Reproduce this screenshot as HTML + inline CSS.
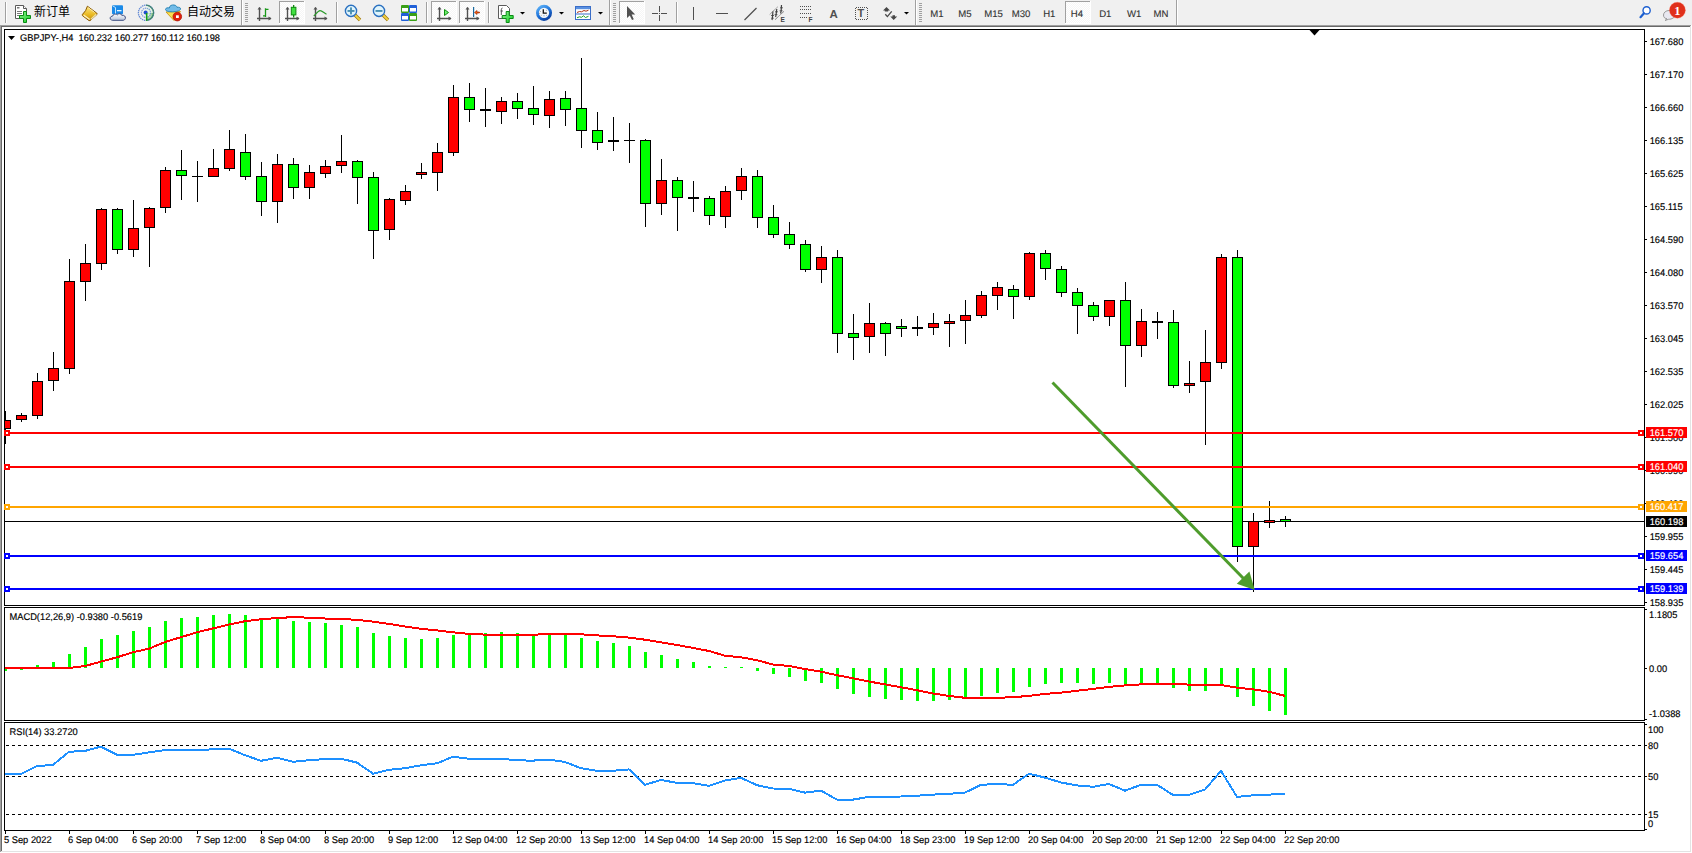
<!DOCTYPE html>
<html><head><meta charset="utf-8"><title>GBPJPY-,H4</title>
<style>
html,body{margin:0;padding:0;}
body{width:1692px;height:853px;overflow:hidden;background:#f0f0f0;position:relative;font-family:'Liberation Sans', 'Noto Sans CJK SC', sans-serif;}
#tb{position:absolute;left:0;top:0;width:1692px;height:25px;}
</style></head><body>
<svg id="chart" width="1692" height="853" viewBox="0 0 1692 853" style="position:absolute;left:0;top:0">
<defs>
<clipPath id="cm"><rect x="5" y="30" width="1639" height="575"/></clipPath>
<clipPath id="cmacd"><rect x="5" y="608" width="1639" height="112"/></clipPath>
<clipPath id="crsi"><rect x="5" y="723" width="1639" height="107"/></clipPath>
</defs>
<!-- window sunken border -->
<rect x="0" y="25" width="1692" height="828" fill="#fff"/>
<rect x="0" y="25" width="1691" height="1" fill="#a0a0a0"/>
<rect x="0" y="25" width="1" height="827" fill="#a0a0a0"/>
<rect x="1" y="26" width="1689" height="1" fill="#696969"/>
<rect x="1" y="26" width="1" height="825" fill="#696969"/>
<rect x="1690" y="26" width="1" height="826" fill="#e3e3e3"/>
<rect x="1" y="851" width="1690" height="1" fill="#e3e3e3"/>
<!-- frames -->
<g fill="#000" shape-rendering="crispEdges">
<rect x="4" y="29" width="1641" height="1"/>
<rect x="4" y="29" width="1" height="577"/>
<rect x="4" y="605" width="1641" height="1"/>
<rect x="4" y="607" width="1641" height="1"/>
<rect x="4" y="607" width="1" height="114"/>
<rect x="4" y="720" width="1641" height="1"/>
<rect x="4" y="722" width="1641" height="1"/>
<rect x="4" y="722" width="1" height="109"/>
<rect x="4" y="830" width="1641" height="1"/>
<rect x="1644" y="29" width="1" height="577"/>
<rect x="1644" y="607" width="1" height="114"/>
<rect x="1644" y="722" width="1" height="109"/>
</g>
<polygon points="1309.5,30 1319.5,30 1314.5,35.5" fill="#000"/>
<g clip-path="url(#cm)" shape-rendering="crispEdges">
<rect x="5" y="521" width="1639" height="1" fill="#000"/>
<rect x="5" y="411" width="1" height="33" fill="#000"/>
<rect x="0" y="420" width="11" height="9" fill="#000"/>
<rect x="1" y="421" width="9" height="7" fill="#ff0000"/>
<rect x="21" y="413" width="1" height="9" fill="#000"/>
<rect x="16" y="415" width="11" height="5" fill="#000"/>
<rect x="17" y="416" width="9" height="3" fill="#ff0000"/>
<rect x="37" y="373" width="1" height="46" fill="#000"/>
<rect x="32" y="381" width="11" height="35" fill="#000"/>
<rect x="33" y="382" width="9" height="33" fill="#ff0000"/>
<rect x="53" y="352" width="1" height="39" fill="#000"/>
<rect x="48" y="368" width="11" height="13" fill="#000"/>
<rect x="49" y="369" width="9" height="11" fill="#ff0000"/>
<rect x="69" y="259" width="1" height="115" fill="#000"/>
<rect x="64" y="281" width="11" height="88" fill="#000"/>
<rect x="65" y="282" width="9" height="86" fill="#ff0000"/>
<rect x="85" y="244" width="1" height="57" fill="#000"/>
<rect x="80" y="263" width="11" height="19" fill="#000"/>
<rect x="81" y="264" width="9" height="17" fill="#ff0000"/>
<rect x="101" y="208" width="1" height="62" fill="#000"/>
<rect x="96" y="209" width="11" height="55" fill="#000"/>
<rect x="97" y="210" width="9" height="53" fill="#ff0000"/>
<rect x="117" y="208" width="1" height="46" fill="#000"/>
<rect x="112" y="209" width="11" height="41" fill="#000"/>
<rect x="113" y="210" width="9" height="39" fill="#00ff00"/>
<rect x="133" y="200" width="1" height="57" fill="#000"/>
<rect x="128" y="228" width="11" height="22" fill="#000"/>
<rect x="129" y="229" width="9" height="20" fill="#ff0000"/>
<rect x="149" y="207" width="1" height="60" fill="#000"/>
<rect x="144" y="208" width="11" height="20" fill="#000"/>
<rect x="145" y="209" width="9" height="18" fill="#ff0000"/>
<rect x="165" y="167" width="1" height="46" fill="#000"/>
<rect x="160" y="170" width="11" height="38" fill="#000"/>
<rect x="161" y="171" width="9" height="36" fill="#ff0000"/>
<rect x="181" y="150" width="1" height="50" fill="#000"/>
<rect x="176" y="170" width="11" height="6" fill="#000"/>
<rect x="177" y="171" width="9" height="4" fill="#00ff00"/>
<rect x="197" y="161" width="1" height="41" fill="#000"/>
<rect x="192" y="176" width="11" height="1" fill="#000"/>
<rect x="213" y="149" width="1" height="28" fill="#000"/>
<rect x="208" y="168" width="11" height="9" fill="#000"/>
<rect x="209" y="169" width="9" height="7" fill="#ff0000"/>
<rect x="229" y="130" width="1" height="41" fill="#000"/>
<rect x="224" y="149" width="11" height="20" fill="#000"/>
<rect x="225" y="150" width="9" height="18" fill="#ff0000"/>
<rect x="245" y="134" width="1" height="46" fill="#000"/>
<rect x="240" y="152" width="11" height="25" fill="#000"/>
<rect x="241" y="153" width="9" height="23" fill="#00ff00"/>
<rect x="261" y="162" width="1" height="54" fill="#000"/>
<rect x="256" y="176" width="11" height="26" fill="#000"/>
<rect x="257" y="177" width="9" height="24" fill="#00ff00"/>
<rect x="277" y="154" width="1" height="69" fill="#000"/>
<rect x="272" y="164" width="11" height="38" fill="#000"/>
<rect x="273" y="165" width="9" height="36" fill="#ff0000"/>
<rect x="293" y="158" width="1" height="41" fill="#000"/>
<rect x="288" y="164" width="11" height="24" fill="#000"/>
<rect x="289" y="165" width="9" height="22" fill="#00ff00"/>
<rect x="309" y="165" width="1" height="34" fill="#000"/>
<rect x="304" y="172" width="11" height="16" fill="#000"/>
<rect x="305" y="173" width="9" height="14" fill="#ff0000"/>
<rect x="325" y="160" width="1" height="18" fill="#000"/>
<rect x="320" y="166" width="11" height="8" fill="#000"/>
<rect x="321" y="167" width="9" height="6" fill="#ff0000"/>
<rect x="341" y="135" width="1" height="38" fill="#000"/>
<rect x="336" y="161" width="11" height="5" fill="#000"/>
<rect x="337" y="162" width="9" height="3" fill="#ff0000"/>
<rect x="357" y="160" width="1" height="44" fill="#000"/>
<rect x="352" y="161" width="11" height="17" fill="#000"/>
<rect x="353" y="162" width="9" height="15" fill="#00ff00"/>
<rect x="373" y="172" width="1" height="87" fill="#000"/>
<rect x="368" y="177" width="11" height="54" fill="#000"/>
<rect x="369" y="178" width="9" height="52" fill="#00ff00"/>
<rect x="389" y="198" width="1" height="42" fill="#000"/>
<rect x="384" y="199" width="11" height="31" fill="#000"/>
<rect x="385" y="200" width="9" height="29" fill="#ff0000"/>
<rect x="405" y="185" width="1" height="20" fill="#000"/>
<rect x="400" y="191" width="11" height="10" fill="#000"/>
<rect x="401" y="192" width="9" height="8" fill="#ff0000"/>
<rect x="421" y="163" width="1" height="16" fill="#000"/>
<rect x="416" y="172" width="11" height="3" fill="#000"/>
<rect x="417" y="173" width="9" height="1" fill="#ff0000"/>
<rect x="437" y="143" width="1" height="48" fill="#000"/>
<rect x="432" y="152" width="11" height="21" fill="#000"/>
<rect x="433" y="153" width="9" height="19" fill="#ff0000"/>
<rect x="453" y="85" width="1" height="71" fill="#000"/>
<rect x="448" y="97" width="11" height="56" fill="#000"/>
<rect x="449" y="98" width="9" height="54" fill="#ff0000"/>
<rect x="469" y="83" width="1" height="39" fill="#000"/>
<rect x="464" y="97" width="11" height="13" fill="#000"/>
<rect x="465" y="98" width="9" height="11" fill="#00ff00"/>
<rect x="485" y="88" width="1" height="39" fill="#000"/>
<rect x="480" y="109" width="11" height="2" fill="#000"/>
<rect x="501" y="97" width="1" height="27" fill="#000"/>
<rect x="496" y="101" width="11" height="11" fill="#000"/>
<rect x="497" y="102" width="9" height="9" fill="#ff0000"/>
<rect x="517" y="93" width="1" height="26" fill="#000"/>
<rect x="512" y="101" width="11" height="8" fill="#000"/>
<rect x="513" y="102" width="9" height="6" fill="#00ff00"/>
<rect x="533" y="86" width="1" height="39" fill="#000"/>
<rect x="528" y="108" width="11" height="7" fill="#000"/>
<rect x="529" y="109" width="9" height="5" fill="#00ff00"/>
<rect x="549" y="91" width="1" height="37" fill="#000"/>
<rect x="544" y="99" width="11" height="17" fill="#000"/>
<rect x="545" y="100" width="9" height="15" fill="#ff0000"/>
<rect x="565" y="91" width="1" height="35" fill="#000"/>
<rect x="560" y="98" width="11" height="12" fill="#000"/>
<rect x="561" y="99" width="9" height="10" fill="#00ff00"/>
<rect x="581" y="58" width="1" height="90" fill="#000"/>
<rect x="576" y="108" width="11" height="23" fill="#000"/>
<rect x="577" y="109" width="9" height="21" fill="#00ff00"/>
<rect x="597" y="112" width="1" height="38" fill="#000"/>
<rect x="592" y="130" width="11" height="13" fill="#000"/>
<rect x="593" y="131" width="9" height="11" fill="#00ff00"/>
<rect x="613" y="117" width="1" height="34" fill="#000"/>
<rect x="608" y="140" width="11" height="2" fill="#000"/>
<rect x="629" y="123" width="1" height="40" fill="#000"/>
<rect x="624" y="140" width="11" height="1" fill="#000"/>
<rect x="645" y="139" width="1" height="88" fill="#000"/>
<rect x="640" y="140" width="11" height="64" fill="#000"/>
<rect x="641" y="141" width="9" height="62" fill="#00ff00"/>
<rect x="661" y="159" width="1" height="56" fill="#000"/>
<rect x="656" y="180" width="11" height="24" fill="#000"/>
<rect x="657" y="181" width="9" height="22" fill="#ff0000"/>
<rect x="677" y="177" width="1" height="54" fill="#000"/>
<rect x="672" y="180" width="11" height="18" fill="#000"/>
<rect x="673" y="181" width="9" height="16" fill="#00ff00"/>
<rect x="693" y="181" width="1" height="31" fill="#000"/>
<rect x="688" y="197" width="11" height="2" fill="#000"/>
<rect x="709" y="196" width="1" height="29" fill="#000"/>
<rect x="704" y="198" width="11" height="18" fill="#000"/>
<rect x="705" y="199" width="9" height="16" fill="#00ff00"/>
<rect x="725" y="186" width="1" height="42" fill="#000"/>
<rect x="720" y="191" width="11" height="26" fill="#000"/>
<rect x="721" y="192" width="9" height="24" fill="#ff0000"/>
<rect x="741" y="168" width="1" height="32" fill="#000"/>
<rect x="736" y="176" width="11" height="15" fill="#000"/>
<rect x="737" y="177" width="9" height="13" fill="#ff0000"/>
<rect x="757" y="170" width="1" height="58" fill="#000"/>
<rect x="752" y="176" width="11" height="42" fill="#000"/>
<rect x="753" y="177" width="9" height="40" fill="#00ff00"/>
<rect x="773" y="205" width="1" height="33" fill="#000"/>
<rect x="768" y="217" width="11" height="18" fill="#000"/>
<rect x="769" y="218" width="9" height="16" fill="#00ff00"/>
<rect x="789" y="222" width="1" height="27" fill="#000"/>
<rect x="784" y="234" width="11" height="11" fill="#000"/>
<rect x="785" y="235" width="9" height="9" fill="#00ff00"/>
<rect x="805" y="240" width="1" height="32" fill="#000"/>
<rect x="800" y="244" width="11" height="26" fill="#000"/>
<rect x="801" y="245" width="9" height="24" fill="#00ff00"/>
<rect x="821" y="246" width="1" height="37" fill="#000"/>
<rect x="816" y="257" width="11" height="13" fill="#000"/>
<rect x="817" y="258" width="9" height="11" fill="#ff0000"/>
<rect x="837" y="250" width="1" height="103" fill="#000"/>
<rect x="832" y="257" width="11" height="77" fill="#000"/>
<rect x="833" y="258" width="9" height="75" fill="#00ff00"/>
<rect x="853" y="314" width="1" height="46" fill="#000"/>
<rect x="848" y="333" width="11" height="5" fill="#000"/>
<rect x="849" y="334" width="9" height="3" fill="#00ff00"/>
<rect x="869" y="303" width="1" height="50" fill="#000"/>
<rect x="864" y="323" width="11" height="14" fill="#000"/>
<rect x="865" y="324" width="9" height="12" fill="#ff0000"/>
<rect x="885" y="322" width="1" height="34" fill="#000"/>
<rect x="880" y="323" width="11" height="11" fill="#000"/>
<rect x="881" y="324" width="9" height="9" fill="#00ff00"/>
<rect x="901" y="319" width="1" height="18" fill="#000"/>
<rect x="896" y="326" width="11" height="3" fill="#000"/>
<rect x="897" y="327" width="9" height="1" fill="#00ff00"/>
<rect x="917" y="316" width="1" height="20" fill="#000"/>
<rect x="912" y="327" width="11" height="2" fill="#000"/>
<rect x="933" y="313" width="1" height="22" fill="#000"/>
<rect x="928" y="323" width="11" height="5" fill="#000"/>
<rect x="929" y="324" width="9" height="3" fill="#ff0000"/>
<rect x="949" y="314" width="1" height="33" fill="#000"/>
<rect x="944" y="321" width="11" height="3" fill="#000"/>
<rect x="945" y="322" width="9" height="1" fill="#ff0000"/>
<rect x="965" y="300" width="1" height="44" fill="#000"/>
<rect x="960" y="315" width="11" height="6" fill="#000"/>
<rect x="961" y="316" width="9" height="4" fill="#ff0000"/>
<rect x="981" y="291" width="1" height="27" fill="#000"/>
<rect x="976" y="295" width="11" height="21" fill="#000"/>
<rect x="977" y="296" width="9" height="19" fill="#ff0000"/>
<rect x="997" y="282" width="1" height="28" fill="#000"/>
<rect x="992" y="287" width="11" height="9" fill="#000"/>
<rect x="993" y="288" width="9" height="7" fill="#ff0000"/>
<rect x="1013" y="285" width="1" height="34" fill="#000"/>
<rect x="1008" y="289" width="11" height="8" fill="#000"/>
<rect x="1009" y="290" width="9" height="6" fill="#00ff00"/>
<rect x="1029" y="252" width="1" height="48" fill="#000"/>
<rect x="1024" y="253" width="11" height="44" fill="#000"/>
<rect x="1025" y="254" width="9" height="42" fill="#ff0000"/>
<rect x="1045" y="250" width="1" height="30" fill="#000"/>
<rect x="1040" y="253" width="11" height="16" fill="#000"/>
<rect x="1041" y="254" width="9" height="14" fill="#00ff00"/>
<rect x="1061" y="266" width="1" height="31" fill="#000"/>
<rect x="1056" y="269" width="11" height="24" fill="#000"/>
<rect x="1057" y="270" width="9" height="22" fill="#00ff00"/>
<rect x="1077" y="288" width="1" height="46" fill="#000"/>
<rect x="1072" y="292" width="11" height="14" fill="#000"/>
<rect x="1073" y="293" width="9" height="12" fill="#00ff00"/>
<rect x="1093" y="302" width="1" height="19" fill="#000"/>
<rect x="1088" y="305" width="11" height="12" fill="#000"/>
<rect x="1089" y="306" width="9" height="10" fill="#00ff00"/>
<rect x="1109" y="300" width="1" height="26" fill="#000"/>
<rect x="1104" y="300" width="11" height="17" fill="#000"/>
<rect x="1105" y="301" width="9" height="15" fill="#ff0000"/>
<rect x="1125" y="282" width="1" height="105" fill="#000"/>
<rect x="1120" y="300" width="11" height="46" fill="#000"/>
<rect x="1121" y="301" width="9" height="44" fill="#00ff00"/>
<rect x="1141" y="309" width="1" height="48" fill="#000"/>
<rect x="1136" y="321" width="11" height="25" fill="#000"/>
<rect x="1137" y="322" width="9" height="23" fill="#ff0000"/>
<rect x="1157" y="312" width="1" height="27" fill="#000"/>
<rect x="1152" y="321" width="11" height="2" fill="#000"/>
<rect x="1173" y="310" width="1" height="78" fill="#000"/>
<rect x="1168" y="322" width="11" height="64" fill="#000"/>
<rect x="1169" y="323" width="9" height="62" fill="#00ff00"/>
<rect x="1189" y="361" width="1" height="32" fill="#000"/>
<rect x="1184" y="383" width="11" height="3" fill="#000"/>
<rect x="1185" y="384" width="9" height="1" fill="#ff0000"/>
<rect x="1205" y="330" width="1" height="115" fill="#000"/>
<rect x="1200" y="362" width="11" height="20" fill="#000"/>
<rect x="1201" y="363" width="9" height="18" fill="#ff0000"/>
<rect x="1221" y="254" width="1" height="115" fill="#000"/>
<rect x="1216" y="257" width="11" height="106" fill="#000"/>
<rect x="1217" y="258" width="9" height="104" fill="#ff0000"/>
<rect x="1237" y="250" width="1" height="312" fill="#000"/>
<rect x="1232" y="257" width="11" height="290" fill="#000"/>
<rect x="1233" y="258" width="9" height="288" fill="#00ff00"/>
<rect x="1253" y="513" width="1" height="79" fill="#000"/>
<rect x="1248" y="521" width="11" height="26" fill="#000"/>
<rect x="1249" y="522" width="9" height="24" fill="#ff0000"/>
<rect x="1269" y="501" width="1" height="27" fill="#000"/>
<rect x="1264" y="520" width="11" height="3" fill="#000"/>
<rect x="1265" y="521" width="9" height="1" fill="#ff0000"/>
<rect x="1285" y="516" width="1" height="11" fill="#000"/>
<rect x="1280" y="519" width="11" height="3" fill="#000"/>
<rect x="1281" y="520" width="9" height="1" fill="#00ff00"/>
</g>
<g shape-rendering="crispEdges">
<rect x="5" y="432" width="1639" height="2" fill="#ff0000"/>
<rect x="4" y="430" width="6" height="6" fill="#ff0000"/>
<rect x="6" y="432" width="2" height="2" fill="#fff"/>
<rect x="1638" y="430" width="6" height="6" fill="#ff0000"/>
<rect x="1640" y="432" width="2" height="2" fill="#fff"/>
<rect x="5" y="466" width="1639" height="2" fill="#ff0000"/>
<rect x="4" y="464" width="6" height="6" fill="#ff0000"/>
<rect x="6" y="466" width="2" height="2" fill="#fff"/>
<rect x="1638" y="464" width="6" height="6" fill="#ff0000"/>
<rect x="1640" y="466" width="2" height="2" fill="#fff"/>
<rect x="5" y="506" width="1639" height="2" fill="#ffa500"/>
<rect x="4" y="504" width="6" height="6" fill="#ffa500"/>
<rect x="6" y="506" width="2" height="2" fill="#fff"/>
<rect x="1638" y="504" width="6" height="6" fill="#ffa500"/>
<rect x="1640" y="506" width="2" height="2" fill="#fff"/>
<rect x="5" y="555" width="1639" height="2" fill="#0000ff"/>
<rect x="4" y="553" width="6" height="6" fill="#0000ff"/>
<rect x="6" y="555" width="2" height="2" fill="#fff"/>
<rect x="1638" y="553" width="6" height="6" fill="#0000ff"/>
<rect x="1640" y="555" width="2" height="2" fill="#fff"/>
<rect x="5" y="588" width="1639" height="2" fill="#0000ff"/>
<rect x="4" y="586" width="6" height="6" fill="#0000ff"/>
<rect x="6" y="588" width="2" height="2" fill="#fff"/>
<rect x="1638" y="586" width="6" height="6" fill="#0000ff"/>
<rect x="1640" y="588" width="2" height="2" fill="#fff"/>
</g>
<g clip-path="url(#cm)">
<line x1="1052.5" y1="382.5" x2="1244" y2="579" stroke="#4e9c2c" stroke-width="3"/>
<polygon points="1254.8,590 1249.4,571.5 1236.8,583.8" fill="#4e9c2c"/>
</g>
<g clip-path="url(#cmacd)" shape-rendering="crispEdges">
<rect x="4" y="668" width="3" height="3" fill="#00ff00"/>
<rect x="20" y="668" width="3" height="2" fill="#00ff00"/>
<rect x="36" y="665" width="3" height="3" fill="#00ff00"/>
<rect x="52" y="662" width="3" height="6" fill="#00ff00"/>
<rect x="68" y="654" width="3" height="14" fill="#00ff00"/>
<rect x="84" y="647" width="3" height="21" fill="#00ff00"/>
<rect x="100" y="639" width="3" height="29" fill="#00ff00"/>
<rect x="116" y="635" width="3" height="33" fill="#00ff00"/>
<rect x="132" y="631" width="3" height="37" fill="#00ff00"/>
<rect x="148" y="627" width="3" height="41" fill="#00ff00"/>
<rect x="164" y="621" width="3" height="47" fill="#00ff00"/>
<rect x="180" y="618" width="3" height="50" fill="#00ff00"/>
<rect x="196" y="617" width="3" height="51" fill="#00ff00"/>
<rect x="212" y="615" width="3" height="53" fill="#00ff00"/>
<rect x="228" y="614" width="3" height="54" fill="#00ff00"/>
<rect x="244" y="615" width="3" height="53" fill="#00ff00"/>
<rect x="260" y="618" width="3" height="50" fill="#00ff00"/>
<rect x="276" y="619" width="3" height="49" fill="#00ff00"/>
<rect x="292" y="621" width="3" height="47" fill="#00ff00"/>
<rect x="308" y="622" width="3" height="46" fill="#00ff00"/>
<rect x="324" y="623" width="3" height="45" fill="#00ff00"/>
<rect x="340" y="625" width="3" height="43" fill="#00ff00"/>
<rect x="356" y="627" width="3" height="41" fill="#00ff00"/>
<rect x="372" y="633" width="3" height="35" fill="#00ff00"/>
<rect x="388" y="636" width="3" height="32" fill="#00ff00"/>
<rect x="404" y="638" width="3" height="30" fill="#00ff00"/>
<rect x="420" y="639" width="3" height="29" fill="#00ff00"/>
<rect x="436" y="638" width="3" height="30" fill="#00ff00"/>
<rect x="452" y="635" width="3" height="33" fill="#00ff00"/>
<rect x="468" y="635" width="3" height="33" fill="#00ff00"/>
<rect x="484" y="633" width="3" height="35" fill="#00ff00"/>
<rect x="500" y="632" width="3" height="36" fill="#00ff00"/>
<rect x="516" y="633" width="3" height="35" fill="#00ff00"/>
<rect x="532" y="635" width="3" height="33" fill="#00ff00"/>
<rect x="548" y="635" width="3" height="33" fill="#00ff00"/>
<rect x="564" y="635" width="3" height="33" fill="#00ff00"/>
<rect x="580" y="638" width="3" height="30" fill="#00ff00"/>
<rect x="596" y="641" width="3" height="27" fill="#00ff00"/>
<rect x="612" y="643" width="3" height="25" fill="#00ff00"/>
<rect x="628" y="646" width="3" height="22" fill="#00ff00"/>
<rect x="644" y="652" width="3" height="16" fill="#00ff00"/>
<rect x="660" y="655" width="3" height="13" fill="#00ff00"/>
<rect x="676" y="659" width="3" height="9" fill="#00ff00"/>
<rect x="692" y="662" width="3" height="6" fill="#00ff00"/>
<rect x="708" y="666" width="3" height="2" fill="#00ff00"/>
<rect x="724" y="667" width="3" height="1" fill="#00ff00"/>
<rect x="740" y="667" width="3" height="1" fill="#00ff00"/>
<rect x="756" y="668" width="3" height="3" fill="#00ff00"/>
<rect x="772" y="668" width="3" height="6" fill="#00ff00"/>
<rect x="788" y="668" width="3" height="9" fill="#00ff00"/>
<rect x="804" y="668" width="3" height="13" fill="#00ff00"/>
<rect x="820" y="668" width="3" height="15" fill="#00ff00"/>
<rect x="836" y="668" width="3" height="21" fill="#00ff00"/>
<rect x="852" y="668" width="3" height="26" fill="#00ff00"/>
<rect x="868" y="668" width="3" height="29" fill="#00ff00"/>
<rect x="884" y="668" width="3" height="31" fill="#00ff00"/>
<rect x="900" y="668" width="3" height="32" fill="#00ff00"/>
<rect x="916" y="668" width="3" height="33" fill="#00ff00"/>
<rect x="932" y="668" width="3" height="33" fill="#00ff00"/>
<rect x="948" y="668" width="3" height="32" fill="#00ff00"/>
<rect x="964" y="668" width="3" height="30" fill="#00ff00"/>
<rect x="980" y="668" width="3" height="28" fill="#00ff00"/>
<rect x="996" y="668" width="3" height="25" fill="#00ff00"/>
<rect x="1012" y="668" width="3" height="24" fill="#00ff00"/>
<rect x="1028" y="668" width="3" height="19" fill="#00ff00"/>
<rect x="1044" y="668" width="3" height="16" fill="#00ff00"/>
<rect x="1060" y="668" width="3" height="15" fill="#00ff00"/>
<rect x="1076" y="668" width="3" height="15" fill="#00ff00"/>
<rect x="1092" y="668" width="3" height="16" fill="#00ff00"/>
<rect x="1108" y="668" width="3" height="15" fill="#00ff00"/>
<rect x="1124" y="668" width="3" height="17" fill="#00ff00"/>
<rect x="1140" y="668" width="3" height="16" fill="#00ff00"/>
<rect x="1156" y="668" width="3" height="15" fill="#00ff00"/>
<rect x="1172" y="668" width="3" height="20" fill="#00ff00"/>
<rect x="1188" y="668" width="3" height="23" fill="#00ff00"/>
<rect x="1204" y="668" width="3" height="23" fill="#00ff00"/>
<rect x="1220" y="668" width="3" height="17" fill="#00ff00"/>
<rect x="1236" y="668" width="3" height="29" fill="#00ff00"/>
<rect x="1252" y="668" width="3" height="38" fill="#00ff00"/>
<rect x="1268" y="668" width="3" height="43" fill="#00ff00"/>
<rect x="1284" y="668" width="3" height="47" fill="#00ff00"/>
<polyline points="5,668 21,668 37,668 53,668 69,668 85,666 101,661.6 117,657.3 133,652.2 149,648.7 165,642 181,637.2 197,632.3 213,628.4 229,624.5 245,621.2 261,619.2 277,618.1 293,617.1 309,617.7 325,618.5 341,619 357,619.8 373,621.6 389,623.9 405,626.5 421,628.8 437,630.4 453,632.3 469,633.9 485,634.6 501,634.6 517,634.6 533,634.6 549,634.3 565,634.3 581,634.3 597,635.4 613,636.2 629,637.6 645,639.7 661,642.4 677,645 693,647.9 709,651 725,655.7 741,657.3 757,660.2 773,664.5 789,666 805,669 821,671.7 837,675.2 853,678.3 869,681.5 885,684.4 901,687.3 917,690.2 933,693.5 949,695.9 965,697.8 981,697.8 997,697.8 1013,697.2 1029,695.9 1045,693.9 1061,692.6 1077,690.8 1093,688.9 1109,686.9 1125,685.4 1141,684.4 1157,683.8 1173,683.8 1189,684.6 1205,684.6 1221,685 1237,687.7 1253,689.3 1269,691.8 1285,695.9" fill="none" stroke="#ff0000" stroke-width="2" stroke-linejoin="round" shape-rendering="crispEdges"/>
</g>
<g clip-path="url(#crsi)">
<line x1="6" y1="745.5" x2="1644" y2="745.5" stroke="#000" stroke-width="1" stroke-dasharray="3 3"/>
<line x1="6" y1="776.5" x2="1644" y2="776.5" stroke="#000" stroke-width="1" stroke-dasharray="3 3"/>
<line x1="6" y1="814.5" x2="1644" y2="814.5" stroke="#000" stroke-width="1" stroke-dasharray="3 3"/>
<polyline points="5,773.9 21,773.9 37,766.1 53,764.9 69,751.8 85,750.9 101,746.6 117,754.8 133,754.8 149,752.4 165,750.1 181,750.1 197,750.1 213,749.3 229,748.7 245,755.2 261,760.8 277,757.7 293,761.8 309,760.2 325,759.1 341,758.7 357,762.6 373,773.7 389,769.8 405,768.2 421,765.3 437,763.3 453,756.7 469,758.7 485,758.7 501,758.7 517,760.4 533,760.6 549,759.6 565,762 581,768.2 597,770.8 613,770.8 629,769.4 645,784.8 661,779.9 677,782.9 693,783.2 709,785.8 725,780.5 741,777.8 757,785.2 773,788.5 789,788.9 805,792.6 821,790.7 837,799.6 853,799.6 869,796.9 885,796.9 901,796.5 917,795.7 933,794.6 949,793.8 965,792.6 981,784.8 997,784 1013,784.8 1029,773.7 1045,777.6 1061,782.5 1077,785.4 1093,786.8 1109,784 1125,790.7 1141,784.8 1157,784.8 1173,794.9 1189,794.9 1205,789.5 1221,770.8 1237,796.9 1253,795.3 1269,794.6 1285,793.8" fill="none" stroke="#1e90ff" stroke-width="2" stroke-linejoin="round" shape-rendering="crispEdges"/>
</g>
<g font-family="'Liberation Sans', 'Noto Sans CJK SC', sans-serif" font-size="9.3" fill="#000" stroke-width="0.15" paint-order="fill" text-rendering="geometricPrecision">
<rect x="1645" y="41" width="2" height="1" fill="#000"/>
<text transform="translate(1649.7,45) scale(1,1.04)" stroke="#000" >167.680</text>
<rect x="1645" y="74" width="2" height="1" fill="#000"/>
<text transform="translate(1649.7,78) scale(1,1.04)" stroke="#000" >167.170</text>
<rect x="1645" y="107" width="2" height="1" fill="#000"/>
<text transform="translate(1649.7,111) scale(1,1.04)" stroke="#000" >166.660</text>
<rect x="1645" y="140" width="2" height="1" fill="#000"/>
<text transform="translate(1649.7,144) scale(1,1.04)" stroke="#000" >166.135</text>
<rect x="1645" y="173" width="2" height="1" fill="#000"/>
<text transform="translate(1649.7,177) scale(1,1.04)" stroke="#000" >165.625</text>
<rect x="1645" y="206" width="2" height="1" fill="#000"/>
<text transform="translate(1649.7,210) scale(1,1.04)" stroke="#000" >165.115</text>
<rect x="1645" y="239" width="2" height="1" fill="#000"/>
<text transform="translate(1649.7,243) scale(1,1.04)" stroke="#000" >164.590</text>
<rect x="1645" y="272" width="2" height="1" fill="#000"/>
<text transform="translate(1649.7,276) scale(1,1.04)" stroke="#000" >164.080</text>
<rect x="1645" y="305" width="2" height="1" fill="#000"/>
<text transform="translate(1649.7,309) scale(1,1.04)" stroke="#000" >163.570</text>
<rect x="1645" y="338" width="2" height="1" fill="#000"/>
<text transform="translate(1649.7,342) scale(1,1.04)" stroke="#000" >163.045</text>
<rect x="1645" y="371" width="2" height="1" fill="#000"/>
<text transform="translate(1649.7,375) scale(1,1.04)" stroke="#000" >162.535</text>
<rect x="1645" y="404" width="2" height="1" fill="#000"/>
<text transform="translate(1649.7,408) scale(1,1.04)" stroke="#000" >162.025</text>
<rect x="1645" y="437" width="2" height="1" fill="#000"/>
<text transform="translate(1649.7,441) scale(1,1.04)" stroke="#000" >161.500</text>
<rect x="1645" y="470" width="2" height="1" fill="#000"/>
<text transform="translate(1649.7,474) scale(1,1.04)" stroke="#000" >160.990</text>
<rect x="1645" y="503" width="2" height="1" fill="#000"/>
<text transform="translate(1649.7,507) scale(1,1.04)" stroke="#000" >160.480</text>
<rect x="1645" y="536" width="2" height="1" fill="#000"/>
<text transform="translate(1649.7,540) scale(1,1.04)" stroke="#000" >159.955</text>
<rect x="1645" y="569" width="2" height="1" fill="#000"/>
<text transform="translate(1649.7,573) scale(1,1.04)" stroke="#000" >159.445</text>
<rect x="1645" y="602" width="2" height="1" fill="#000"/>
<text transform="translate(1649.7,606) scale(1,1.04)" stroke="#000" >158.935</text>
<rect x="1645" y="609" width="2" height="1" fill="#000"/>
<text transform="translate(1649,618) scale(1,1.04)" stroke="#000" >1.1805</text>
<rect x="1645" y="668" width="2" height="1" fill="#000"/>
<text transform="translate(1649,672) scale(1,1.04)" stroke="#000" >0.00</text>
<rect x="1645" y="719" width="2" height="1" fill="#000"/>
<text transform="translate(1649,717) scale(1,1.04)" stroke="#000" >-1.0388</text>
<rect x="1645" y="724" width="2" height="1" fill="#000"/>
<text transform="translate(1648,733) scale(1,1.04)" stroke="#000" >100</text>
<rect x="1645" y="745" width="2" height="1" fill="#000"/>
<text transform="translate(1648,749) scale(1,1.04)" stroke="#000" >80</text>
<rect x="1645" y="776" width="2" height="1" fill="#000"/>
<text transform="translate(1648,780) scale(1,1.04)" stroke="#000" >50</text>
<rect x="1645" y="814" width="2" height="1" fill="#000"/>
<text transform="translate(1648,818) scale(1,1.04)" stroke="#000" >15</text>
<rect x="1645" y="829" width="2" height="1" fill="#000"/>
<text transform="translate(1648,827) scale(1,1.04)" stroke="#000" >0</text>
<rect x="1646" y="427" width="41" height="11" fill="#ff0000"/>
<text transform="translate(1649.7,436) scale(1,1.04)" stroke="#fff" fill="#fff">161.570</text>
<rect x="1646" y="461" width="41" height="11" fill="#ff0000"/>
<text transform="translate(1649.7,470) scale(1,1.04)" stroke="#fff" fill="#fff">161.040</text>
<rect x="1646" y="501" width="41" height="11" fill="#ffa500"/>
<text transform="translate(1649.7,510) scale(1,1.04)" stroke="#fff" fill="#fff">160.417</text>
<rect x="1646" y="516" width="41" height="11" fill="#000"/>
<text transform="translate(1649.7,525) scale(1,1.04)" stroke="#fff" fill="#fff">160.198</text>
<rect x="1646" y="550" width="41" height="11" fill="#0000ff"/>
<text transform="translate(1649.7,559) scale(1,1.04)" stroke="#fff" fill="#fff">159.654</text>
<rect x="1646" y="583" width="41" height="11" fill="#0000ff"/>
<text transform="translate(1649.7,592) scale(1,1.04)" stroke="#fff" fill="#fff">159.139</text>
<rect x="5" y="831" width="1" height="3" fill="#000"/>
<text transform="translate(4,843) scale(1,1.04)" stroke="#000" >5 Sep 2022</text>
<rect x="69" y="831" width="1" height="3" fill="#000"/>
<text transform="translate(68,843) scale(1,1.04)" stroke="#000" >6 Sep 04:00</text>
<rect x="133" y="831" width="1" height="3" fill="#000"/>
<text transform="translate(132,843) scale(1,1.04)" stroke="#000" >6 Sep 20:00</text>
<rect x="197" y="831" width="1" height="3" fill="#000"/>
<text transform="translate(196,843) scale(1,1.04)" stroke="#000" >7 Sep 12:00</text>
<rect x="261" y="831" width="1" height="3" fill="#000"/>
<text transform="translate(260,843) scale(1,1.04)" stroke="#000" >8 Sep 04:00</text>
<rect x="325" y="831" width="1" height="3" fill="#000"/>
<text transform="translate(324,843) scale(1,1.04)" stroke="#000" >8 Sep 20:00</text>
<rect x="389" y="831" width="1" height="3" fill="#000"/>
<text transform="translate(388,843) scale(1,1.04)" stroke="#000" >9 Sep 12:00</text>
<rect x="453" y="831" width="1" height="3" fill="#000"/>
<text transform="translate(452,843) scale(1,1.04)" stroke="#000" >12 Sep 04:00</text>
<rect x="517" y="831" width="1" height="3" fill="#000"/>
<text transform="translate(516,843) scale(1,1.04)" stroke="#000" >12 Sep 20:00</text>
<rect x="581" y="831" width="1" height="3" fill="#000"/>
<text transform="translate(580,843) scale(1,1.04)" stroke="#000" >13 Sep 12:00</text>
<rect x="645" y="831" width="1" height="3" fill="#000"/>
<text transform="translate(644,843) scale(1,1.04)" stroke="#000" >14 Sep 04:00</text>
<rect x="709" y="831" width="1" height="3" fill="#000"/>
<text transform="translate(708,843) scale(1,1.04)" stroke="#000" >14 Sep 20:00</text>
<rect x="773" y="831" width="1" height="3" fill="#000"/>
<text transform="translate(772,843) scale(1,1.04)" stroke="#000" >15 Sep 12:00</text>
<rect x="837" y="831" width="1" height="3" fill="#000"/>
<text transform="translate(836,843) scale(1,1.04)" stroke="#000" >16 Sep 04:00</text>
<rect x="901" y="831" width="1" height="3" fill="#000"/>
<text transform="translate(900,843) scale(1,1.04)" stroke="#000" >18 Sep 23:00</text>
<rect x="965" y="831" width="1" height="3" fill="#000"/>
<text transform="translate(964,843) scale(1,1.04)" stroke="#000" >19 Sep 12:00</text>
<rect x="1029" y="831" width="1" height="3" fill="#000"/>
<text transform="translate(1028,843) scale(1,1.04)" stroke="#000" >20 Sep 04:00</text>
<rect x="1093" y="831" width="1" height="3" fill="#000"/>
<text transform="translate(1092,843) scale(1,1.04)" stroke="#000" >20 Sep 20:00</text>
<rect x="1157" y="831" width="1" height="3" fill="#000"/>
<text transform="translate(1156,843) scale(1,1.04)" stroke="#000" >21 Sep 12:00</text>
<rect x="1221" y="831" width="1" height="3" fill="#000"/>
<text transform="translate(1220,843) scale(1,1.04)" stroke="#000" >22 Sep 04:00</text>
<rect x="1285" y="831" width="1" height="3" fill="#000"/>
<text transform="translate(1284,843) scale(1,1.04)" stroke="#000" >22 Sep 20:00</text>
<text transform="translate(20,41) scale(1,1.04)" stroke="#000" >GBPJPY-,H4&#160; 160.232 160.277 160.112 160.198</text>
<text transform="translate(9.5,620) scale(1,1.04)" stroke="#000" >MACD(12,26,9) -0.9380 -0.5619</text>
<text transform="translate(9.5,735) scale(1,1.04)" stroke="#000" >RSI(14) 33.2720</text>
</g>
<polygon points="8,36 15,36 11.5,40" fill="#000"/>
</svg>
<svg id="tb" width="1692" height="25" viewBox="0 0 1692 25">
<defs><pattern id="dith" width="2" height="2" patternUnits="userSpaceOnUse"><rect width="2" height="2" fill="#f6f6f6"/><rect width="1" height="1" fill="#fff"/><rect x="1" y="1" width="1" height="1" fill="#fff"/></pattern><linearGradient id="gold" x1="0" y1="0" x2="0" y2="1"><stop offset="0" stop-color="#ffe680"/><stop offset="0.6" stop-color="#e8b820"/><stop offset="1" stop-color="#c08a10"/></linearGradient><linearGradient id="cloud" x1="0" y1="0" x2="0" y2="1"><stop offset="0" stop-color="#ffffff"/><stop offset="1" stop-color="#b8c4d8"/></linearGradient><linearGradient id="gplus" x1="0" y1="0" x2="1" y2="1"><stop offset="0" stop-color="#90f090"/><stop offset="1" stop-color="#10d020"/></linearGradient></defs>
<rect x="5" y="2" width="1" height="21" fill="#a0a0a0"/>
<rect x="6" y="2" width="1" height="21" fill="#fff"/>
<path d="M15.5 5.5H23.5L26.5 8.5V18.5H15.5Z" fill="#fff" stroke="#5a5a5a" stroke-width="1"/>
<path d="M23.5 5.5V8.5H26.5" fill="#fff" stroke="#5a5a5a" stroke-width="1"/>
<g fill="#777"><rect x="17" y="7" width="2.5" height="1.5"/><rect x="17" y="11" width="5" height="1"/><rect x="17" y="13" width="5" height="1"/><rect x="17" y="15" width="3" height="1"/></g>
<path d="M23.5 11.5H26.5V15.5H30.5V18.5H26.5V22.5H23.5V18.5H19.5V15.5H23.5Z" fill="url(#gplus)" stroke="#0a8a14" stroke-width="1"/>
<text x="34" y="16" font-family="'Liberation Sans', 'Noto Sans CJK SC', sans-serif" font-size="12" fill="#000">新订单</text>
<path d="M87.4 6.2L96.8 13.2L97.2 14.2L90.2 20.6L89 20.6L82.4 15.6L82.3 14.6L85.6 10.6Z" fill="url(#gold)" stroke="#8a5800" stroke-width="1"/>
<path d="M83.6 15.2L89.8 19.5" stroke="#fff0b8" stroke-width="1.4" fill="none"/>
<path d="M91 19.2L96.3 14.3" stroke="#efe0a8" stroke-width="1.4" fill="none"/>
<path d="M88.2 7.6L94.6 12.4" stroke="#fff6c0" stroke-width="1" fill="none" opacity="0.8"/>
<rect x="112" y="5.2" width="11" height="9" fill="#1a8ae8" rx="1"/>
<path d="M112.5 5.8L115.5 7.5V14" stroke="#bfe4ff" stroke-width="1" fill="none"/>
<rect x="117" y="10" width="4.5" height="1.3" fill="#e6f6ff"/>
<path d="M111 19.5C109.5 19 110 16 112.5 16.2C113 14 116 13.3 117.5 14.8C118.5 13 121.5 13.5 121.7 15.3C124 14.8 126 16.5 125.3 18.5C125 19.7 124 20.3 123 20.3H112.3C111.5 20.3 111.2 20 111 19.5Z" fill="url(#cloud)" stroke="#3d4d80" stroke-width="1"/>
<defs><radialGradient id="sg" cx="0.3" cy="0.3" r="0.9"><stop offset="0" stop-color="#e8f6e8"/><stop offset="1" stop-color="#3aa03a"/></radialGradient></defs>
<path d="M146.5 12.8H153.6A7.3 7.3 0 0 1 146.5 20.3Z" fill="url(#sg)" opacity="0.9"/>
<path d="M146.5 12.8V5.5A7.3 7.3 0 0 1 153.8 12.8Z" fill="#e4f2e4"/>
<circle cx="146" cy="12.8" r="7.6" fill="none" stroke="#4a78d0" stroke-width="1.3" stroke-dasharray="1.4 0.7" opacity="0.85"/>
<circle cx="146" cy="12.8" r="4.6" fill="none" stroke="#4a78d0" stroke-width="1.2" stroke-dasharray="1.3 0.7" opacity="0.7"/>
<path d="M146 5.2A7.6 7.6 0 0 1 153.6 12.8A7.6 7.6 0 0 1 146.5 20.4" fill="none" stroke="#2f7a5a" stroke-width="1.3" opacity="0.8"/>
<circle cx="145.6" cy="12.5" r="2" fill="#2050d0"/>
<rect x="145.9" y="13" width="1.5" height="7.8" fill="#16a016"/>
<path d="M166 12L180.5 11.5L174 20.5Z" fill="#f8e050" stroke="#d0a020" stroke-width="1"/>
<path d="M165.5 9.5C165.5 7.8 168 7.6 169.3 8C169.6 5.3 172 4.8 174 5C176.2 5.3 176.8 6.5 177 7.3C179 7 181.2 7.7 180.5 9.3C180 10.8 176 11.8 172.5 11.8C168.5 11.8 165.5 11 165.5 9.5Z" fill="#72bce8" stroke="#2a86b8" stroke-width="1"/>
<circle cx="177.3" cy="16.6" r="4.3" fill="#e0200c" stroke="#b01808" stroke-width="0.8"/>
<rect x="176" y="15.3" width="2.8" height="2.7" fill="#fff"/>
<text x="187" y="16" font-family="'Liberation Sans', 'Noto Sans CJK SC', sans-serif" font-size="12" fill="#000">自动交易</text>
<rect x="241" y="0" width="1" height="25" fill="#a0a0a0"/>
<rect x="242" y="0" width="1" height="25" fill="#fff"/>
<rect x="245" y="3" width="3" height="1" fill="#a0a0a0"/>
<rect x="245" y="5" width="3" height="1" fill="#a0a0a0"/>
<rect x="245" y="7" width="3" height="1" fill="#a0a0a0"/>
<rect x="245" y="9" width="3" height="1" fill="#a0a0a0"/>
<rect x="245" y="11" width="3" height="1" fill="#a0a0a0"/>
<rect x="245" y="13" width="3" height="1" fill="#a0a0a0"/>
<rect x="245" y="15" width="3" height="1" fill="#a0a0a0"/>
<rect x="245" y="17" width="3" height="1" fill="#a0a0a0"/>
<rect x="245" y="19" width="3" height="1" fill="#a0a0a0"/>
<rect x="245" y="21" width="3" height="1" fill="#a0a0a0"/>
<g stroke="#505050" stroke-width="1.4" fill="none"><path d="M259.5 7.5V21M257.0 18.5H271.0"/></g>
<path d="M257.5 9.5L259.5 7L261.5 9.5Z" fill="#505050"/>
<path d="M268.5 16.5L271.5 18.5L268.5 20.5Z" fill="#505050"/>
<path d="M265.5 8.3V17M265.5 9.3H268.5M263 15.8H265.5" stroke="#1a9a1a" stroke-width="1.3" fill="none"/>
<rect x="279" y="1" width="25" height="22" fill="url(#dith)"/>
<rect x="279" y="1" width="25" height="1" fill="#a0a0a0"/>
<rect x="279" y="1" width="1" height="22" fill="#a0a0a0"/>
<rect x="304" y="1" width="1" height="23" fill="#fff"/>
<rect x="279" y="23" width="26" height="1" fill="#fff"/>
<g stroke="#505050" stroke-width="1.4" fill="none"><path d="M287.5 7.5V21M285.0 18.5H299.0"/></g>
<path d="M285.5 9.5L287.5 7L289.5 9.5Z" fill="#505050"/>
<path d="M296.5 16.5L299.5 18.5L296.5 20.5Z" fill="#505050"/>
<rect x="293" y="5" width="1.3" height="12.5" fill="#108a10"/>
<rect x="291.3" y="7.3" width="4.6" height="7.6" fill="#40e040" stroke="#108a10" stroke-width="1"/>
<g stroke="#505050" stroke-width="1.4" fill="none"><path d="M315.5 7.5V21M313.0 18.5H327.0"/></g>
<path d="M313.5 9.5L315.5 7L317.5 9.5Z" fill="#505050"/>
<path d="M324.5 16.5L327.5 18.5L324.5 20.5Z" fill="#505050"/>
<path d="M313.8 16C316 14 318 10.8 320 10.6C322 10.5 324 13 326.5 14.3" stroke="#2a9a2a" stroke-width="1.2" fill="none"/>
<rect x="336" y="2" width="1" height="21" fill="#a0a0a0"/>
<rect x="337" y="2" width="1" height="21" fill="#fff"/>
<path d="M355 15L360 20" stroke="#a07810" stroke-width="3.4" stroke-linecap="butt"/>
<path d="M355 15L360 20" stroke="#f0d040" stroke-width="1.8"/>
<circle cx="351" cy="10.9" r="5.6" fill="#dff4fc" stroke="#2a70c0" stroke-width="1.4"/>
<rect x="347.5" y="10" width="7" height="1.9" fill="#4a90b4"/>
<rect x="350.05" y="7.4" width="1.9" height="7" fill="#4a90b4"/>
<path d="M383 15L388 20" stroke="#a07810" stroke-width="3.4" stroke-linecap="butt"/>
<path d="M383 15L388 20" stroke="#f0d040" stroke-width="1.8"/>
<circle cx="379" cy="10.9" r="5.6" fill="#dff4fc" stroke="#2a70c0" stroke-width="1.4"/>
<rect x="375.5" y="10" width="7" height="1.9" fill="#4a90b4"/>
<rect x="401" y="5" width="8" height="8" rx="1" fill="#3aa018"/><rect x="409" y="5" width="8" height="8" rx="1" fill="#2060d8"/><rect x="401" y="13" width="8" height="8" rx="1" fill="#2060d8"/><rect x="409" y="13" width="8" height="8" rx="1" fill="#3aa018"/>
<rect x="402" y="8" width="6" height="3.5" fill="#fff"/>
<rect x="410" y="8" width="6" height="3.5" fill="#fff"/>
<rect x="402" y="16" width="6" height="3.5" fill="#fff"/>
<rect x="410" y="16" width="6" height="3.5" fill="#fff"/>
<rect x="426" y="2" width="1" height="21" fill="#a0a0a0"/>
<rect x="427" y="2" width="1" height="21" fill="#fff"/>
<rect x="431" y="1" width="25" height="22" fill="url(#dith)"/>
<rect x="431" y="1" width="25" height="1" fill="#a0a0a0"/>
<rect x="431" y="1" width="1" height="22" fill="#a0a0a0"/>
<rect x="456" y="1" width="1" height="23" fill="#fff"/>
<rect x="431" y="23" width="26" height="1" fill="#fff"/>
<g stroke="#505050" stroke-width="1.4" fill="none"><path d="M439.5 7.5V21M437.0 18.5H451.0"/></g>
<path d="M437.5 9.5L439.5 7L441.5 9.5Z" fill="#505050"/>
<path d="M448.5 16.5L451.5 18.5L448.5 20.5Z" fill="#505050"/>
<path d="M444.5 9.5L448.5 12.5L444.5 15.5Z" fill="#70f070" stroke="#109010" stroke-width="1"/>
<rect x="459" y="1" width="25" height="22" fill="url(#dith)"/>
<rect x="459" y="1" width="25" height="1" fill="#a0a0a0"/>
<rect x="459" y="1" width="1" height="22" fill="#a0a0a0"/>
<rect x="484" y="1" width="1" height="23" fill="#fff"/>
<rect x="459" y="23" width="26" height="1" fill="#fff"/>
<g stroke="#505050" stroke-width="1.4" fill="none"><path d="M467.5 7.5V21M465.0 18.5H479.0"/></g>
<path d="M465.5 9.5L467.5 7L469.5 9.5Z" fill="#505050"/>
<path d="M476.5 16.5L479.5 18.5L476.5 20.5Z" fill="#505050"/>
<rect x="473" y="7" width="1.2" height="10" fill="#1a6aa0"/>
<path d="M474.5 12.5L477 10.5V12H479.5V13H477V14.5Z" fill="#f06010" stroke="#902000" stroke-width="0.6"/>
<rect x="488" y="2" width="1" height="21" fill="#a0a0a0"/>
<rect x="489" y="2" width="1" height="21" fill="#fff"/>
<path d="M498.5 5.5H506.5L509.5 8.5V18.5H498.5Z" fill="#fff" stroke="#5a5a5a" stroke-width="1"/>
<path d="M502.5 8C501.5 8 501.3 9 501.3 10V15" stroke="#444" stroke-width="0.9" fill="none"/><path d="M500.5 11H503" stroke="#444" stroke-width="0.8"/>
<path d="M506.2 11.5H509.2V15.5H513.2V18.5H509.2V22.5H506.2V18.5H502.2V15.5H506.2Z" fill="url(#gplus)" stroke="#0a8a14" stroke-width="1"/>
<path d="M520 12H525L522.5 14.6Z" fill="#000"/>
<defs><linearGradient id="clk" x1="0.2" y1="0" x2="0.8" y2="1"><stop offset="0" stop-color="#55aaf5"/><stop offset="0.5" stop-color="#1f72d8"/><stop offset="1" stop-color="#0a3fa0"/></linearGradient></defs>
<circle cx="544" cy="12.85" r="6.6" fill="#f4f6f8" stroke="url(#clk)" stroke-width="2.9"/>
<path d="M543.3 9.3V13.2H546.8" stroke="#111" stroke-width="1.3" fill="none"/>
<g fill="#777"><circle cx="540.5" cy="11.5" r="0.45"/><circle cx="541.2" cy="15.3" r="0.45"/><circle cx="546.5" cy="15.2" r="0.45"/><circle cx="546.3" cy="10.2" r="0.45"/><circle cx="539.7" cy="13.3" r="0.45"/></g>
<rect x="543.2" y="15.6" width="1.6" height="0.6" fill="#4a8ae0"/>
<path d="M559 12H564L561.5 14.6Z" fill="#000"/>
<rect x="575.5" y="6.5" width="15" height="13" fill="#fff" stroke="#3a6ec8" stroke-width="1"/>
<rect x="576" y="7" width="14" height="2.2" fill="#5a90e0"/>
<rect x="576" y="13.5" width="14" height="1" fill="#3a6ec8"/>
<path d="M577 12.5L579.5 11.5L581.5 11.8L584 10.5L586 11.2L588.5 10.2" stroke="#b03010" stroke-width="1" fill="none"/>
<path d="M577 17.8L579.5 16.8L581.5 17.3L583.5 15.8L585.5 17.5L588.5 16.3" stroke="#20a020" stroke-width="1" fill="none"/>
<path d="M598 12H603L600.5 14.6Z" fill="#000"/>
<rect x="609" y="0" width="1" height="25" fill="#a0a0a0"/>
<rect x="610" y="0" width="1" height="25" fill="#fff"/>
<rect x="613" y="3" width="3" height="1" fill="#a0a0a0"/>
<rect x="613" y="5" width="3" height="1" fill="#a0a0a0"/>
<rect x="613" y="7" width="3" height="1" fill="#a0a0a0"/>
<rect x="613" y="9" width="3" height="1" fill="#a0a0a0"/>
<rect x="613" y="11" width="3" height="1" fill="#a0a0a0"/>
<rect x="613" y="13" width="3" height="1" fill="#a0a0a0"/>
<rect x="613" y="15" width="3" height="1" fill="#a0a0a0"/>
<rect x="613" y="17" width="3" height="1" fill="#a0a0a0"/>
<rect x="613" y="19" width="3" height="1" fill="#a0a0a0"/>
<rect x="613" y="21" width="3" height="1" fill="#a0a0a0"/>
<rect x="619" y="1" width="25" height="22" fill="url(#dith)"/>
<rect x="619" y="1" width="25" height="1" fill="#a0a0a0"/>
<rect x="619" y="1" width="1" height="22" fill="#a0a0a0"/>
<rect x="644" y="1" width="1" height="23" fill="#fff"/>
<rect x="619" y="23" width="26" height="1" fill="#fff"/>
<path d="M627 6V18L629.8 15.4L632 20L633.8 19.2L631.6 14.6H635.2Z" fill="#505050"/>
<g fill="#505050"><rect x="659" y="6" width="1" height="6"/><rect x="659" y="15" width="1" height="6"/><rect x="652" y="13" width="6" height="1"/><rect x="661" y="13" width="6" height="1"/><rect x="659" y="13" width="1" height="1"/></g>
<rect x="676" y="2" width="1" height="21" fill="#a0a0a0"/>
<rect x="677" y="2" width="1" height="21" fill="#fff"/>
<rect x="693" y="7" width="1" height="13" fill="#505050"/>
<rect x="716" y="13" width="12" height="1" fill="#505050"/>
<path d="M744.5 20L756.5 8" stroke="#505050" stroke-width="1.3"/>
<path d="M769.8 14.4L777.5 7.1M775 19.7L784 11.3" stroke="#505050" stroke-width="0.9" stroke-dasharray="1 0.6" fill="none"/>
<path d="M773 11.5C772.5 14 772.8 17 772 20M776.8 9C776.2 12 776.5 14 775.6 17M781.5 5C781.2 8 781.6 10 780.6 13.5" stroke="#404040" stroke-width="1.2" fill="none"/>
<path d="M771 15.5H774M771.2 18.2H773.8M775 11.8H778M774.6 14.6H777.4M780 7.8H783M779.6 10.8H782.6" stroke="#404040" stroke-width="0.8"/>
<text x="780.5" y="22" font-family="'Liberation Sans', 'Noto Sans CJK SC', sans-serif" font-size="6.5" font-weight="bold" fill="#404040">E</text>
<rect x="799" y="6" width="13" height="1" fill="url(#dot)"/>
<rect x="799" y="9" width="13" height="1" fill="url(#dot)"/>
<rect x="799" y="13" width="13" height="1" fill="url(#dot)"/>
<rect x="799" y="17" width="9" height="1" fill="url(#dot)"/>
<defs><pattern id="dot" width="2" height="1" patternUnits="userSpaceOnUse"><rect width="1" height="1" fill="#505050"/></pattern></defs>
<text x="808.5" y="22" font-family="'Liberation Sans', 'Noto Sans CJK SC', sans-serif" font-size="6.5" font-weight="bold" fill="#404040">F</text>
<text x="829.5" y="18.2" font-family="'Liberation Sans', 'Noto Sans CJK SC', sans-serif" font-size="11.5" font-weight="bold" fill="#505050">A</text>
<defs><pattern id="dotv" width="1" height="2" patternUnits="userSpaceOnUse"><rect width="1" height="1" fill="#505050"/></pattern></defs>
<rect x="855" y="7" width="13" height="1" fill="url(#dot)"/><rect x="855" y="19" width="13" height="1" fill="url(#dot)"/><rect x="855" y="7" width="1" height="13" fill="url(#dotv)"/><rect x="867" y="7" width="1" height="13" fill="url(#dotv)"/>
<text x="857.4" y="17.4" font-family="'Liberation Sans', 'Noto Sans CJK SC', sans-serif" font-size="11" font-weight="bold" fill="#505050">T</text>
<path d="M883 10.6L886.5 7L890 10.6H888.2V11.6H884.8V10.6Z" fill="#474747"/>
<path d="M885.3 14.2L887.4 16.6L891.7 11.4" stroke="#474747" stroke-width="1.3" fill="none"/>
<path d="M890.3 16.4H892.5V15.3H895V16.4H897.2L893.7 20Z" fill="#474747"/>
<path d="M904 12H909L906.5 14.6Z" fill="#000"/>
<rect x="915" y="0" width="1" height="25" fill="#a0a0a0"/>
<rect x="916" y="0" width="1" height="25" fill="#fff"/>
<rect x="919" y="3" width="3" height="1" fill="#a0a0a0"/>
<rect x="919" y="5" width="3" height="1" fill="#a0a0a0"/>
<rect x="919" y="7" width="3" height="1" fill="#a0a0a0"/>
<rect x="919" y="9" width="3" height="1" fill="#a0a0a0"/>
<rect x="919" y="11" width="3" height="1" fill="#a0a0a0"/>
<rect x="919" y="13" width="3" height="1" fill="#a0a0a0"/>
<rect x="919" y="15" width="3" height="1" fill="#a0a0a0"/>
<rect x="919" y="17" width="3" height="1" fill="#a0a0a0"/>
<rect x="919" y="19" width="3" height="1" fill="#a0a0a0"/>
<rect x="919" y="21" width="3" height="1" fill="#a0a0a0"/>
<rect x="1065" y="1" width="25" height="22" fill="url(#dith)"/>
<rect x="1065" y="1" width="25" height="1" fill="#a0a0a0"/>
<rect x="1065" y="1" width="1" height="22" fill="#a0a0a0"/>
<rect x="1090" y="1" width="1" height="23" fill="#fff"/>
<rect x="1065" y="23" width="26" height="1" fill="#fff"/>
<text x="937" y="16.9" text-anchor="middle" font-family="'Liberation Sans', 'Noto Sans CJK SC', sans-serif" font-size="9.6" fill="#333" stroke="#333" stroke-width="0.12" text-rendering="geometricPrecision">M1</text>
<text x="965" y="16.9" text-anchor="middle" font-family="'Liberation Sans', 'Noto Sans CJK SC', sans-serif" font-size="9.6" fill="#333" stroke="#333" stroke-width="0.12" text-rendering="geometricPrecision">M5</text>
<text x="993.5" y="16.9" text-anchor="middle" font-family="'Liberation Sans', 'Noto Sans CJK SC', sans-serif" font-size="9.6" fill="#333" stroke="#333" stroke-width="0.12" text-rendering="geometricPrecision">M15</text>
<text x="1021" y="16.9" text-anchor="middle" font-family="'Liberation Sans', 'Noto Sans CJK SC', sans-serif" font-size="9.6" fill="#333" stroke="#333" stroke-width="0.12" text-rendering="geometricPrecision">M30</text>
<text x="1049.3" y="16.9" text-anchor="middle" font-family="'Liberation Sans', 'Noto Sans CJK SC', sans-serif" font-size="9.6" fill="#333" stroke="#333" stroke-width="0.12" text-rendering="geometricPrecision">H1</text>
<text x="1077" y="16.9" text-anchor="middle" font-family="'Liberation Sans', 'Noto Sans CJK SC', sans-serif" font-size="9.6" fill="#333" stroke="#333" stroke-width="0.12" text-rendering="geometricPrecision">H4</text>
<text x="1105.3" y="16.9" text-anchor="middle" font-family="'Liberation Sans', 'Noto Sans CJK SC', sans-serif" font-size="9.6" fill="#333" stroke="#333" stroke-width="0.12" text-rendering="geometricPrecision">D1</text>
<text x="1134.2" y="16.9" text-anchor="middle" font-family="'Liberation Sans', 'Noto Sans CJK SC', sans-serif" font-size="9.6" fill="#333" stroke="#333" stroke-width="0.12" text-rendering="geometricPrecision">W1</text>
<text x="1161" y="16.9" text-anchor="middle" font-family="'Liberation Sans', 'Noto Sans CJK SC', sans-serif" font-size="9.6" fill="#333" stroke="#333" stroke-width="0.12" text-rendering="geometricPrecision">MN</text>
<rect x="1176" y="0" width="1" height="25" fill="#a0a0a0"/>
<rect x="1177" y="0" width="1" height="25" fill="#fff"/>
<circle cx="1646.6" cy="10.4" r="3.6" fill="#fff" stroke="#1c5fd0" stroke-width="1.4"/>
<path d="M1644 13.3L1640.5 17.2" stroke="#1c5fd0" stroke-width="2.2" stroke-linecap="round"/>
<path d="M1665 20.5L1667 18.8C1664 18.2 1663.5 16.8 1663.5 15C1663.5 12.5 1666 10.5 1669 10.5C1672 10.5 1675 12.5 1675 15C1675 17.5 1672 19.3 1668.5 19.3Z" fill="#e8e8f0" stroke="#9a9a9a" stroke-width="1"/>
<circle cx="1677.4" cy="10.2" r="8" fill="#e0301a"/>
<circle cx="1677.4" cy="10.2" r="8" fill="none" stroke="#ff6a50" stroke-width="0.6" opacity="0.5"/>
<text x="1677.4" y="14.6" text-anchor="middle" font-family="'Liberation Serif', serif" font-size="12.5" font-weight="bold" fill="#fff">1</text>
</svg>
</body></html>
